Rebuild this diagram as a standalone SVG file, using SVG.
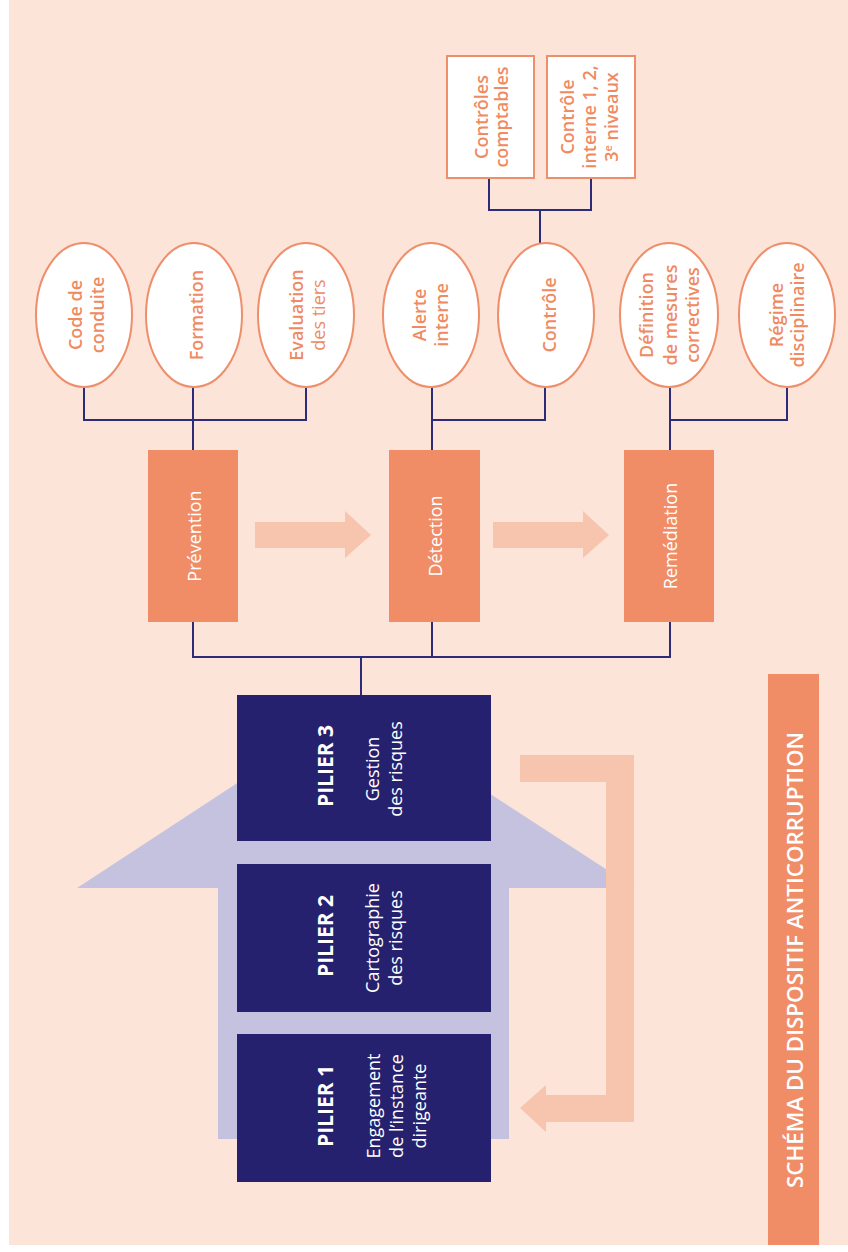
<svg xmlns="http://www.w3.org/2000/svg" width="848" height="1252" viewBox="0 0 848 1252">
<defs>
<style>
.bg{fill:#FDE4D9}
.ell{fill:#FFFFFF;stroke:#EF8E6B;stroke-width:2}
.box{fill:#FFFFFF;stroke:#EF8E6B;stroke-width:2}
.step{fill:#F08D67}
.pil{fill:#26216F}
.lt{fill:#F7C4AE}
.lav{fill:#C5C2E0}
.ln{fill:none;stroke:#2E2B7A;stroke-width:2}
.ot{font-family:"Open Sans","Liberation Sans",sans-serif;font-size:18px;font-weight:600;fill:#EF8A62;text-anchor:middle}
.wt{font-family:"Open Sans","Liberation Sans",sans-serif;font-size:18px;font-weight:400;fill:#FFFFFF;text-anchor:middle}
.pt{font-family:"Open Sans","Liberation Sans",sans-serif;font-size:21px;font-weight:700;fill:#FFFFFF;text-anchor:middle}
.tt{font-family:"Open Sans","Liberation Sans",sans-serif;font-size:22px;font-weight:600;fill:#FFFFFF;text-anchor:middle}
</style>
</defs>
<rect class="bg" x="9" y="0" width="839" height="1245"/>

<!-- big lavender arrow -->
<g id="pillar-arrow">
<polygon class="lav" points="218,888 77,888 355,706 635,888 509,888 509,1139 218,1139"/>
</g>

<!-- feedback arrow -->
<g id="feedback-arrow">
<polygon class="lt" points="520,755 634,755 634,1122 546,1122 546,1132 520,1108 546,1085 546,1095 606,1095 606,782 520,782"/>
</g>

<!-- flow arrows -->
<g id="flow-arrows">
<polygon class="lt" points="255,522 345,522 345,511 371,535 345,558 345,548 255,548"/>
<polygon class="lt" points="493,522 583,522 583,511 609,535 583,558 583,548 493,548"/>
</g>

<!-- connectors -->
<g id="connectors">
<path class="ln" d="M489,178 V210 M591,178 V210 M488,210 H592 M540,210 V243"/>
<path class="ln" d="M84,387 V420 M193,387 V450 M306,387 V420 M83,420 H307"/>
<path class="ln" d="M432,387 V450 M545,387 V420 M431,420 H546"/>
<path class="ln" d="M670,387 V450 M787,387 V420 M669,420 H788"/>
<path class="ln" d="M193,622 V657 M432,622 V657 M670,622 V657 M192,657 H671 M361,657 V695"/>
</g>

<!-- top boxes -->
<g id="controles-comptables">
<rect class="box" x="447" y="56" width="87" height="122"/>
<text class="ot" transform="translate(490.5,117) rotate(-90)"><tspan x="0" y="-3">Contrôles</tspan><tspan x="0" y="17">comptables</tspan></text>
</g>
<g id="controle-interne">
<rect class="box" x="547" y="56" width="88" height="122"/>
<text class="ot" transform="translate(591,117) rotate(-90)"><tspan x="0" y="-17">Contrôle</tspan><tspan x="0" y="5">interne 1, 2,</tspan><tspan x="0" y="27">3<tspan dy="-6" font-size="11">e</tspan><tspan dy="6"> niveaux</tspan></tspan></text>
</g>

<!-- ellipses -->
<g id="code-de-conduite">
<ellipse class="ell" cx="84" cy="315" rx="48" ry="72"/>
<text class="ot" transform="translate(84,315) rotate(-90)"><tspan x="0" y="-2">Code de</tspan><tspan x="0" y="20">conduite</tspan></text>
</g>
<g id="formation">
<ellipse class="ell" cx="194" cy="315" rx="48" ry="72"/>
<text class="ot" transform="translate(194,315) rotate(-90)"><tspan x="0" y="9">Formation</tspan></text>
</g>
<g id="evaluation-des-tiers">
<ellipse class="ell" cx="306" cy="315" rx="48" ry="72"/>
<text class="ot" transform="translate(306,315) rotate(-90)"><tspan x="0" y="-3">Evaluation</tspan><tspan x="0" y="19" font-weight="400">des tiers</tspan></text>
</g>
<g id="alerte-interne">
<ellipse class="ell" cx="431" cy="315" rx="48" ry="72"/>
<text class="ot" transform="translate(431,315) rotate(-90)"><tspan x="0" y="-5">Alerte</tspan><tspan x="0" y="17">interne</tspan></text>
</g>
<g id="controle">
<ellipse class="ell" cx="546" cy="315" rx="48" ry="72"/>
<text class="ot" transform="translate(546,315) rotate(-90)"><tspan x="0" y="10">Contrôle</tspan></text>
</g>
<g id="definition-mesures">
<ellipse class="ell" cx="669" cy="315" rx="49" ry="72"/>
<text class="ot" transform="translate(669,315) rotate(-90)"><tspan x="0" y="-16">Définition</tspan><tspan x="0" y="8">de mesures</tspan><tspan x="0" y="30">correctives</tspan></text>
</g>
<g id="regime-disciplinaire">
<ellipse class="ell" cx="787" cy="315" rx="48" ry="72"/>
<text class="ot" transform="translate(787,315) rotate(-90)"><tspan x="0" y="-4">Régime</tspan><tspan x="0" y="17">disciplinaire</tspan></text>
</g>

<!-- steps -->
<g id="prevention">
<rect class="step" x="148" y="450" width="90" height="172"/>
<text class="wt" transform="translate(193,536) rotate(-90)" x="0" y="8">Prévention</text>
</g>
<g id="detection">
<rect class="step" x="389" y="450" width="91" height="172"/>
<text class="wt" transform="translate(434,536) rotate(-90)" x="0" y="8">Détection</text>
</g>
<g id="remediation">
<rect class="step" x="624" y="450" width="90" height="172"/>
<text class="wt" transform="translate(669,536) rotate(-90)" x="0" y="8">Remédiation</text>
</g>

<!-- pillars -->
<g id="pilier-3">
<rect class="pil" x="237" y="695" width="254" height="146"/>
<text class="pt" transform="translate(364,766) rotate(-90)" x="0" y="-31">PILIER 3</text>
<text class="wt" transform="translate(364,769) rotate(-90)"><tspan x="0" y="15">Gestion</tspan><tspan x="0" y="38">des risques</tspan></text>
</g>
<g id="pilier-2">
<rect class="pil" x="237" y="864" width="254" height="148"/>
<text class="pt" transform="translate(364,936) rotate(-90)" x="0" y="-31">PILIER 2</text>
<text class="wt" transform="translate(364,938) rotate(-90)"><tspan x="0" y="15">Cartographie</tspan><tspan x="0" y="38">des risques</tspan></text>
</g>
<g id="pilier-1">
<rect class="pil" x="237" y="1034" width="254" height="148"/>
<text class="pt" transform="translate(364,1106) rotate(-90)" x="0" y="-31">PILIER 1</text>
<text class="wt" transform="translate(364,1106) rotate(-90)"><tspan x="0" y="16">Engagement</tspan><tspan x="0" y="39">de l’instance</tspan><tspan x="0" y="62">dirigeante</tspan></text>
</g>

<!-- title -->
<g id="title">
<rect class="step" x="768" y="674" width="51" height="571"/>
<text class="tt" transform="translate(793.5,960) rotate(-90)" x="0" y="9" textLength="456" lengthAdjust="spacingAndGlyphs">SCHÉMA DU DISPOSITIF ANTICORRUPTION</text>
</g>
</svg>
